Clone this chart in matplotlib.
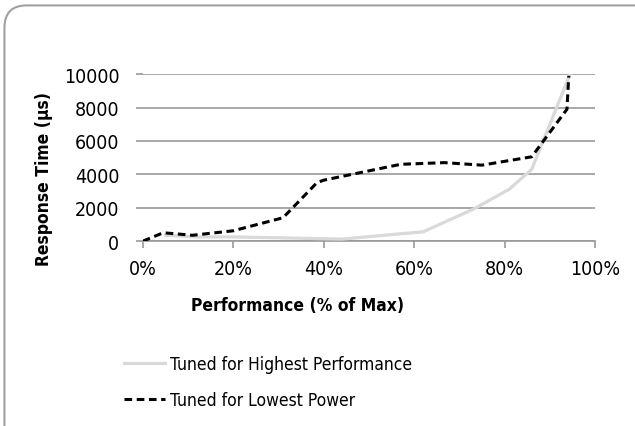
import numpy as np
import matplotlib
matplotlib.use("Agg")
import matplotlib.pyplot as plt
from matplotlib.patches import FancyBboxPatch

plt.rcParams['font.family'] = ['DejaVu Sans']
plt.rcParams['font.stretch'] = 'condensed'

# Tuned for Highest Performance (grey solid)
perf_high = [5, 12, 20, 30, 44, 62, 73, 81, 86, 93, 94.5]
resp_high = [350, 250, 250, 200, 120, 560, 1900, 3100, 4300, 9000, 10000]

# Tuned for Lowest Power (black dashed)
perf_low = [0, 4.5, 11, 20, 31, 38.5, 40, 57, 66.7, 75, 86, 93.8, 94.2]
resp_low = [0, 500, 350, 620, 1400, 3500, 3650, 4600, 4700, 4550, 5050, 7900, 9900]

xticks = [0, 20, 40, 60, 80, 100]
xtick_labels = ['0%', '20%', '40%', '60%', '80%', '100%']
yticks = [0, 2000, 4000, 6000, 8000, 10000]

fig = plt.figure(figsize=(6.35, 4.27), dpi=100)
ax = fig.add_axes([0.225, 0.433, 0.712, 0.391])

ax.plot(perf_high, resp_high, color='#d9d9d9', lw=2.3,
        label='Tuned for Highest Performance', zorder=3)
ax.plot(perf_low, resp_low, color='black', lw=2.2, dashes=(2.5, 1.5),
        label='Tuned for Lowest Power', zorder=4)

ax.set_xlim(0, 100)
ax.set_ylim(0, 10000)
ax.set_xticks(xticks)
ax.set_xticklabels(xtick_labels)
ax.set_yticks(yticks)

for s in ['top', 'right', 'left']:
    ax.spines[s].set_visible(False)
ax.spines['bottom'].set_color('#999999')
ax.spines['bottom'].set_linewidth(1.2)
ax.grid(axis='y', color='#999999', lw=1.2)
ax.set_axisbelow(True)
ax.tick_params(axis='x', direction='out', length=5, width=1.2, color='#999999',
               labelsize=14, pad=8)
ax.tick_params(axis='y', direction='out', length=5, width=1.2, color='#999999',
               labelsize=14, pad=12)

ax.set_xlabel('Performance (% of Max)', fontsize=12.5, fontweight='bold')
ax.set_ylabel('Response Time (µs)', fontsize=12.5, fontweight='bold')
ax.xaxis.set_label_coords(0.343, -0.33)
ax.yaxis.set_label_coords(-0.199, 0.377)

fig.legend(loc='upper left', bbox_to_anchor=(0.185, 0.183), frameon=False,
           fontsize=12.5, handlelength=2.35, handletextpad=0.25, labelspacing=1.05,
           borderaxespad=0)

# rounded chart border
frame = FancyBboxPatch((0.007, -0.1), 1.2, 1.085, transform=fig.transFigure,
                       boxstyle='round,pad=0,rounding_size=0.035',
                       fc='none', ec='#a0a0a0', lw=1.5, mutation_aspect=1.5)
fig.patches.append(frame)

fig.savefig('out.png', dpi=100)
